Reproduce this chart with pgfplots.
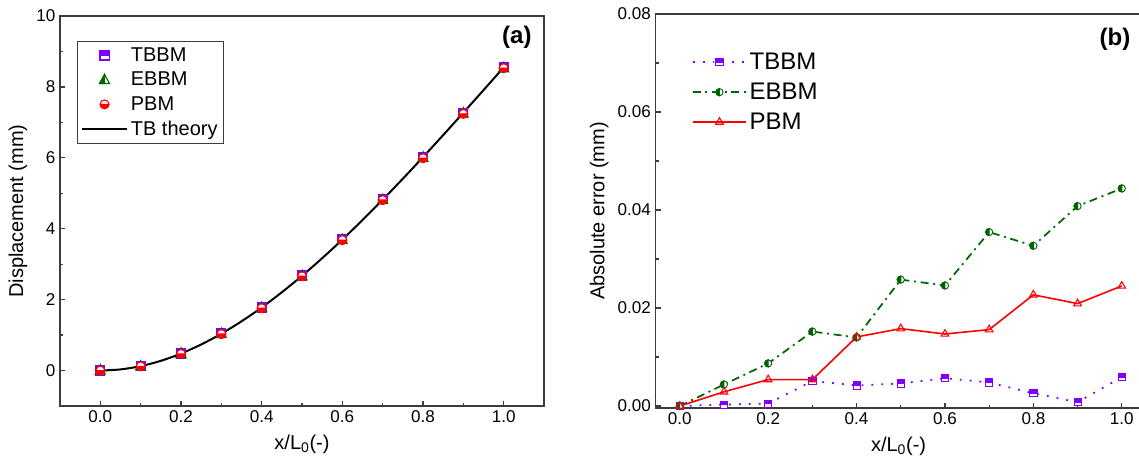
\documentclass[border=0pt]{standalone}
\usepackage{fontspec}
\setmainfont{Liberation Sans}
\usepackage{pgfplots}
\pgfplotsset{compat=1.18}
\usetikzlibrary{plotmarks}

\definecolor{cV}{RGB}{128,0,255}
\definecolor{cG}{RGB}{0,100,0}
\definecolor{cR}{RGB}{255,0,0}
\definecolor{cAx}{RGB}{60,60,60}

\pgfdeclareplotmark{hsq}{%
  \begin{pgfscope}\pgfsetfillcolor{white}%
  \pgfpathrectangle{\pgfqpoint{-\pgfplotmarksize}{-\pgfplotmarksize}}{\pgfqpoint{2\pgfplotmarksize}{2\pgfplotmarksize}}%
  \pgfusepathqfillstroke\end{pgfscope}%
  \pgfpathrectangle{\pgfqpoint{-\pgfplotmarksize}{0pt}}{\pgfqpoint{2\pgfplotmarksize}{\pgfplotmarksize}}%
  \pgfusepathqfillstroke}
\pgfdeclareplotmark{htri}{%
  \begin{pgfscope}\pgfsetfillcolor{white}%
  \pgfpathmoveto{\pgfqpoint{0pt}{1.2\pgfplotmarksize}}%
  \pgfpathlineto{\pgfqpoint{-1.1\pgfplotmarksize}{-0.8\pgfplotmarksize}}%
  \pgfpathlineto{\pgfqpoint{1.1\pgfplotmarksize}{-0.8\pgfplotmarksize}}%
  \pgfpathclose\pgfusepathqfillstroke\end{pgfscope}%
  \pgfpathmoveto{\pgfqpoint{0pt}{1.2\pgfplotmarksize}}%
  \pgfpathlineto{\pgfqpoint{-1.1\pgfplotmarksize}{-0.8\pgfplotmarksize}}%
  \pgfpathlineto{\pgfqpoint{0pt}{-0.8\pgfplotmarksize}}%
  \pgfpathclose\pgfusepathqfillstroke}
\pgfdeclareplotmark{hcirb}{%
  \begin{pgfscope}\pgfsetfillcolor{white}%
  \pgfpathcircle{\pgfpointorigin}{\pgfplotmarksize}\pgfusepathqfillstroke\end{pgfscope}%
  \pgfpathmoveto{\pgfqpoint{-\pgfplotmarksize}{0pt}}%
  \pgfpatharc{180}{360}{\pgfplotmarksize}%
  \pgfpathclose\pgfusepathqfillstroke}
\pgfdeclareplotmark{hcirl}{%
  \begin{pgfscope}\pgfsetfillcolor{white}%
  \pgfpathcircle{\pgfpointorigin}{\pgfplotmarksize}\pgfusepathqfillstroke\end{pgfscope}%
  \pgfpathmoveto{\pgfqpoint{0pt}{\pgfplotmarksize}}%
  \pgfpatharc{90}{270}{\pgfplotmarksize}%
  \pgfpathclose\pgfusepathqfillstroke}

\pgfplotsset{myax/.style={
  scale only axis,
  anchor=south west,
  clip=false,
  axis line style={cAx, line width=1pt},
  every tick/.style={cAx, line width=0.9pt},
  major tick length=4pt, minor tick length=2.5pt,
  tick align=inside,
  xtick pos=bottom, ytick pos=left,
  minor x tick num=1, minor y tick num=1,
  tick label style={font=\fontsize{12.8}{14}\selectfont},
  label style={font=\fontsize{15}{18}\selectfont},
  xlabel style={yshift=-2pt},
  /pgf/number format/assume math mode=true,
  xtick={0,0.2,...,1.0},
  xticklabel style={/pgf/number format/fixed,/pgf/number format/fixed zerofill,/pgf/number format/precision=1},
  xlabel={x/L\textsubscript{0}(-)},
}}

\begin{document}
\begin{tikzpicture}
\path[use as bounding box] (0pt,0pt) rectangle (854.25pt,351.75pt);

\begin{axis}[myax,
  at={(45pt,47.25pt)}, width=363pt, height=292.5pt,
  xmin=-0.1, xmax=1.1, ymin=-1, ymax=10,
  ytick={0,2,...,10},
  ylabel={Displacement (mm)},
  legend cell align=left,
  legend style={at={(0.035,0.936)}, anchor=north west, draw=cAx, line width=0.9pt,
    font=\fontsize{15}{17}\selectfont, inner sep=2.5pt, row sep=2.5pt},
  legend image code/.code={\draw[mark repeat=2,mark phase=2,#1] plot coordinates {(0pt,0pt) (17pt,0pt) (34pt,0pt)};},
]
\addplot[only marks, mark=hsq, mark size=3.4pt, mark options={draw=cV, fill=cV, line width=0.8pt}] coordinates {
(0,0) (0.1,0.13) (0.2,0.48) (0.3,1.05) (0.4,1.78) (0.5,2.68) (0.6,3.70) (0.7,4.83) (0.8,6.02) (0.9,7.27) (1.0,8.56)};
\addlegendentry{TBBM}
\addplot[only marks, mark=htri, mark size=3.4pt, mark options={draw=cG, fill=cG, line width=0.8pt}] coordinates {
(0,0) (0.1,0.12) (0.2,0.47) (0.3,1.03) (0.4,1.77) (0.5,2.66) (0.6,3.68) (0.7,4.81) (0.8,6.00) (0.9,7.25) (1.0,8.53)};
\addlegendentry{EBBM}
\addplot[only marks, mark=hcirb, mark size=3.3pt, mark options={draw=cR, fill=cR, line width=0.8pt}] coordinates {
(0,0) (0.1,0.12) (0.2,0.47) (0.3,1.03) (0.4,1.76) (0.5,2.66) (0.6,3.68) (0.7,4.81) (0.8,5.99) (0.9,7.24) (1.0,8.53)};
\addlegendentry{PBM}
\addplot[black, line width=1.5pt, smooth] coordinates {
(0,0) (0.05,0.032) (0.1,0.124) (0.15,0.274) (0.2,0.479) (0.25,0.735) (0.3,1.039) (0.35,1.388) (0.4,1.778) (0.45,2.208) (0.5,2.672) (0.55,3.168) (0.6,3.694) (0.65,4.245) (0.7,4.818) (0.75,5.410) (0.8,6.019) (0.85,6.641) (0.9,7.272) (0.95,7.909) (1.0,8.55)};
\addlegendentry{TB theory}
\node[font=\bfseries\fontsize{18}{20}\selectfont] at (rel axis cs:0.944,0.946) {(a)};
\end{axis}

\begin{axis}[myax,
  at={(491.6pt,45.75pt)}, width=364.65pt, height=295.5pt,
  xmin=-0.055, xmax=1.045, ymin=-0.0004, ymax=0.08,
  ytick={0,0.02,...,0.081},
  scaled y ticks=false,
  yticklabel style={/pgf/number format/fixed,/pgf/number format/fixed zerofill,/pgf/number format/precision=2},
  ylabel={Absolute error (mm)},
  legend cell align=left,
  legend style={at={(0.069,0.915)}, anchor=north west, draw=none, fill=none,
    font=\fontsize{18}{20}\selectfont, inner sep=2pt, row sep=4.5pt},
  legend image code/.code={\draw[mark repeat=2,mark phase=2,#1] plot coordinates {(0pt,0pt) (20pt,0pt) (40pt,0pt)};},
]
\addplot[cV, line width=1.3pt, dash pattern=on 1.4pt off 6pt, mark=hsq, mark size=2.7pt, mark options={solid, draw=cV, fill=cV, line width=0.7pt}] coordinates {
(0,0) (0.1,0.0003) (0.2,0.0005) (0.3,0.0051) (0.4,0.0042) (0.5,0.0046) (0.6,0.0057) (0.7,0.0048) (0.8,0.0026) (0.9,0.0008) (1.0,0.0059)};
\addlegendentry{TBBM}
\addplot[cG, line width=1.3pt, dash pattern=on 6pt off 3.5pt on 1.5pt off 3.5pt, mark=hcirl, mark size=2.7pt, mark options={solid, draw=cG, fill=cG, line width=0.7pt}] coordinates {
(0,0) (0.1,0.0044) (0.2,0.0087) (0.3,0.0152) (0.4,0.0140) (0.5,0.0258) (0.6,0.0246) (0.7,0.0355) (0.8,0.0327) (0.9,0.0408) (1.0,0.0444)};
\addlegendentry{EBBM}
\addplot[cR, line width=1.2pt, mark=triangle, mark size=3.3pt, mark options={solid, draw=cR, fill=white, line width=0.8pt}] coordinates {
(0,0) (0.1,0.0029) (0.2,0.0054) (0.3,0.0054) (0.4,0.0141) (0.5,0.0158) (0.6,0.0147) (0.7,0.0156) (0.8,0.0227) (0.9,0.0209) (1.0,0.0245)};
\addlegendentry{PBM}
\node[font=\bfseries\fontsize{18}{20}\selectfont] at (rel axis cs:0.945,0.937) {(b)};
\end{axis}
\end{tikzpicture}
\end{document}
